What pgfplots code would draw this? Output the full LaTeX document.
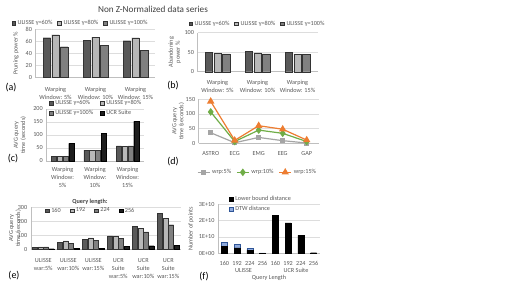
\documentclass[border=0pt]{standalone}
\usepackage{fontspec}
\setmainfont{Carlito}
\usepackage{pgfplots}
\pgfplotsset{compat=1.18}
\definecolor{txt}{HTML}{595959}
\definecolor{ttl}{HTML}{404040}
\definecolor{gA}{HTML}{595959}
\definecolor{gB}{HTML}{B8B8B8}
\definecolor{gC}{HTML}{808080}
\definecolor{gK}{HTML}{1E1E1E}
\definecolor{bdr}{HTML}{333333}
\definecolor{grd}{HTML}{DDDDDD}
\definecolor{axl}{HTML}{BFBFBF}
\definecolor{lgray}{HTML}{A5A5A5}
\definecolor{lgreen}{HTML}{70AD47}
\definecolor{lorange}{HTML}{ED7D31}
\definecolor{dtwfill}{HTML}{8FAADC}
\definecolor{dtwline}{HTML}{2F5597}
\newcommand{\ft}{\fontsize{6.2}{8}\selectfont}
\pgfplotsset{
  panel/.style={
    scale only axis,
    anchor=south west,
    axis x line*=bottom, axis y line*=left,
    axis line style={-, draw=axl, line width=0.6pt},
    major tick length=0pt,
    ymajorgrids, grid style={draw=grd, line width=0.5pt},
    tick label style={font=\ft, text=txt},
    /pgf/number format/assume math mode=true,
    every axis y label/.style={rotate=90, anchor=center, align=center, font=\fontsize{6.2}{7.2}\selectfont, text=txt},
    xticklabel style={align=center, anchor=north},
    legend style={draw=none, fill=none, font=\ft, text=txt, inner sep=0pt, outer sep=0pt,
      /tikz/every even column/.append style={column sep=3pt}},
    legend cell align=left,
    clip=false,
  },
  sq/.style={legend image code/.code={\draw[##1] (0pt,-1.9pt) rectangle (3.8pt,1.9pt);}},
  linelegend/.style={
    legend image code/.code={\draw[mark repeat=2,mark phase=2,##1] plot coordinates {(0pt,0pt) (6pt,0pt) (12pt,0pt)};}
  },
  bA/.style={fill=gA, draw=bdr, line width=0.3pt},
  bB/.style={fill=gB, draw=bdr, line width=0.3pt},
  bC/.style={fill=gC, draw=bdr, line width=0.3pt},
  bK/.style={fill=gK, draw=black, line width=0.3pt},
}
\begin{document}
\begin{tikzpicture}
\useasboundingbox (0,0) rectangle (511pt,-298pt);
\fill[white] (0,0) rectangle (511pt,-298pt);
\node[font=\fontsize{9.2}{10}\selectfont, text=ttl] at (153pt,-9pt) {Non Z-Normalized data series};

% (a)
\begin{axis}[panel, at={(35.5pt,-77.3pt)}, width=120pt, height=48pt,
  ymin=0, ymax=80, ytick={0,20,40,60,80}, xmin=-0.5, xmax=2.5, xtick={0,1,2},
  xticklabels={{Warping\\Window: 5\%},{Warping\\Window: 10\%},{Warping\\Window: 15\%}},
  xticklabel style={yshift=-6pt},
  ybar=1.2pt, bar width=7.5pt, sq,
  ylabel={Pruning power \%}, ylabel style={at={(axis description cs:-0.163,0.5)}},
  legend columns=3, legend style={at={(axis description cs:0.375,1.13)}, anchor=center}]
\addplot[bA] coordinates {(0,66) (1,62) (2,61)};
\addplot[bB] coordinates {(0,71) (1,67) (2,66)};
\addplot[bC] coordinates {(0,51) (1,53) (2,45)};
\legend{ULISSE γ=60\%, ULISSE γ=80\%, ULISSE γ=100\%}
\end{axis}

% (b)
\begin{axis}[panel, at={(197.5pt,-71.7pt)}, width=120pt, height=39pt,
  ymin=0, ymax=100, ytick={0,50,100}, xmin=-0.5, xmax=2.5, xtick={0,1,2},
  xticklabels={{Warping\\Window: 5\%},{Warping\\Window: 10\%},{Warping\\Window: 15\%}},
  xticklabel style={yshift=-5pt},
  ybar=1.2pt, bar width=7.5pt, sq,
  ylabel={Abandoning\\power \%}, ylabel style={at={(axis description cs:-0.19,0.5)}},
  legend columns=3, legend style={at={(axis description cs:0.5,1.23)}, anchor=center}]
\addplot[bA] coordinates {(0,50.4) (1,52) (2,50.4)};
\addplot[bB] coordinates {(0,47.8) (1,48.7) (2,45.2)};
\addplot[bC] coordinates {(0,46) (1,46) (2,44.3)};
\legend{ULISSE γ=60\%, ULISSE γ=80\%, ULISSE γ=100\%}
\end{axis}

% (c)
\begin{axis}[panel, at={(46.3pt,-161pt)}, width=97.5pt, height=52pt,
  ymin=0, ymax=200, ytick={0,50,100,150,200}, xmin=-0.5, xmax=2.5, xtick={0,1,2},
  xticklabels={{Warping\\Window:\\5\%},{Warping\\Window:\\10\%},{Warping\\Window:\\15\%}},
  xticklabel style={yshift=-2.5pt},
  ybar=0.6pt, bar width=5.2pt, sq,
  ylabel={AVG query\\time (seconds)}, ylabel style={at={(axis description cs:-0.27,0.5)}},
  legend columns=2, legend style={at={(axis description cs:0.03,1.2)}, anchor=north west,
    /tikz/every even column/.append style={column sep=5pt}}]
\addplot[bA] coordinates {(0,17) (1,42) (2,58)};
\addplot[bB] coordinates {(0,17) (1,42) (2,57)};
\addplot[bC] coordinates {(0,17) (1,42) (2,58)};
\addplot[bK] coordinates {(0,68) (1,107) (2,152)};
\legend{ULISSE γ=60\%, ULISSE γ=80\%, ULISSE γ=100\%, UCR Suite}
\end{axis}

% (d)
\begin{axis}[panel, linelegend, at={(198.7pt,-143.3pt)}, width=120pt, height=44pt,
  ymin=0, ymax=150, ytick={0,50,100,150}, xmin=-0.5, xmax=4.5, xtick={0,1,2,3,4},
  xticklabels={ASTRO,ECG,EMG,EEG,GAP},
  xticklabel style={yshift=-5pt},
  ylabel={AVG query\\time (seconds)}, ylabel style={at={(axis description cs:-0.17,0.5)}},
  legend columns=3, legend style={at={(axis description cs:0.49,-0.66)}, anchor=center}]
\addplot[lgray, line width=1.2pt, mark=square*, mark size=2.1pt] coordinates {(0,36) (1,2) (2,20) (3,9) (4,1)};
\addplot[lgreen, line width=1.2pt, mark=diamond*, mark size=2.9pt] coordinates {(0,107) (1,6) (2,45) (3,34) (4,6)};
\addplot[lorange, line width=1.2pt, mark=triangle*, mark size=3.1pt] coordinates {(0,143) (1,10) (2,60) (3,48) (4,11)};
\legend{wrp:5\%, wrp:10\%, wrp:15\%}
\end{axis}

% (e)
\begin{axis}[panel, at={(30.8pt,-249.3pt)}, width=150pt, height=42pt,
  ymin=0, ymax=300, ytick={0,100,200,300}, xmin=-0.5, xmax=5.5, xtick={0,1,2,3,4,5},
  xticklabels={{ULISSE\\war:5\%},{ULISSE\\war:10\%},{ULISSE\\war:15\%},{UCR\\Suite\\war:5\%},{UCR\\Suite\\war:10\%},{UCR\\Suite\\war:15\%}},
  xticklabel style={yshift=-6pt},
  ybar=0.5pt, bar width=5pt, sq,
  ylabel={AVG query\\time (seconds)}, ylabel style={at={(axis description cs:-0.105,0.5)}},
  legend columns=4, legend style={at={(axis description cs:0.4,0.92)}, anchor=center,
    /tikz/every even column/.append style={column sep=7pt}}]
\addplot[bA] coordinates {(0,16) (1,51) (2,73) (3,96) (4,166) (5,258)};
\addplot[bB] coordinates {(0,18) (1,61) (2,82) (3,91) (4,152) (5,223)};
\addplot[bC] coordinates {(0,17) (1,44) (2,63) (3,77) (4,124) (5,176)};
\addplot[bK] coordinates {(0,4) (1,5) (2,9) (3,23) (4,26) (5,30)};
\legend{160, 192, 224, 256}
\end{axis}
\node[font=\fontsize{6.2}{7}\selectfont\bfseries, text=ttl] at (90pt,-201.5pt) {Query length:};

% (f)
\begin{axis}[panel, at={(218pt,-253.3pt)}, width=102pt, height=49pt,
  ymin=0, ymax=3, ytick={0,1,2,3}, yticklabels={0E+00,1E+10,2E+10,3E+10},
  xmin=-0.5, xmax=7.5, xtick={0,1,2,3,4,5,6,7},
  xticklabels={160,192,224,256,160,192,224,256},
  xticklabel style={yshift=-4.7pt},
  ybar stacked, bar width=6pt, sq,
  ylabel={Number of points}, ylabel style={at={(axis description cs:-0.265,0.5)}},
  legend columns=1, legend style={at={(axis description cs:0.11,1.2)}, anchor=north west}]
\addplot[fill=black, draw=black, line width=0.3pt] coordinates {(0,0.43) (1,0.33) (2,0.18) (3,0.01) (4,2.33) (5,1.86) (6,1.1) (7,0.04)};
\addplot[fill=dtwfill, draw=dtwline, line width=0.3pt] coordinates {(0,0.225) (1,0.22) (2,0.11) (3,0.012) (4,0) (5,0) (6,0) (7,0)};
\legend{Lower bound distance, DTW distance}
\end{axis}
\node[font=\ft, text=txt] at (243.5pt,-270.5pt) {ULISSE};
\node[font=\ft, text=txt] at (296pt,-270.5pt) {UCR Suite};
\node[font=\ft, text=txt] at (269pt,-277.5pt) {Query Length};

% panel labels
\node[font=\fontsize{10}{11}\selectfont] at (11pt,-88pt) {(a)};
\node[font=\fontsize{10}{11}\selectfont] at (173pt,-86pt) {(b)};
\node[font=\fontsize{10}{11}\selectfont] at (13pt,-159pt) {(c)};
\node[font=\fontsize{10}{11}\selectfont] at (173pt,-162pt) {(d)};
\node[font=\fontsize{10}{11}\selectfont] at (14pt,-276pt) {(e)};
\node[font=\fontsize{10}{11}\selectfont] at (204pt,-277pt) {(f)};
\end{tikzpicture}
\end{document}
